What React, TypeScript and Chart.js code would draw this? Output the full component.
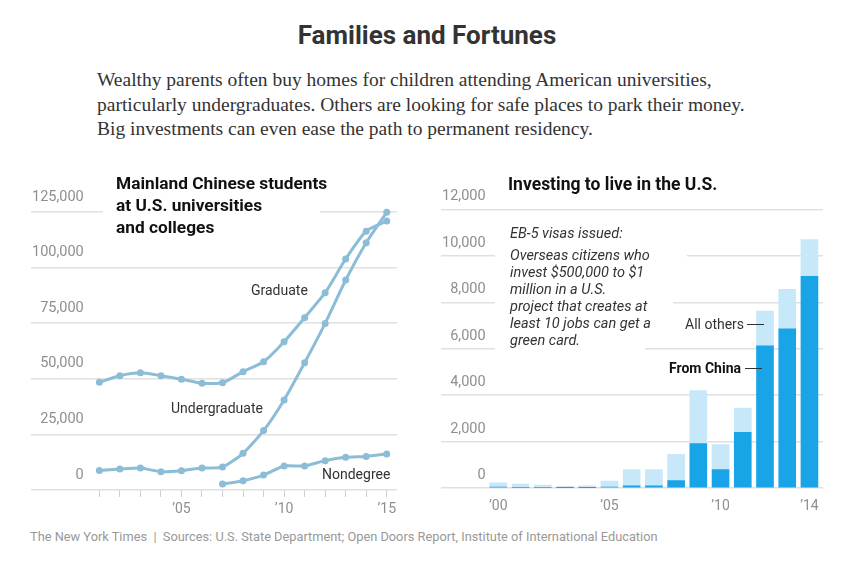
import React, { useEffect, useRef } from "react";
import { Chart, registerables } from "chart.js";

Chart.register(...registerables);

// ---- Left chart: Mainland Chinese students at U.S. universities ----
const studentYears = [2001, 2002, 2003, 2004, 2005, 2006, 2007, 2008, 2009, 2010, 2011, 2012, 2013, 2014, 2015];
const graduate = [48400, 51400, 52700, 51400, 49800, 48000, 48200, 53200, 57700, 66700, 77500, 88700, 103900, 116400, 120900];
const undergraduate = [8800, 9400, 9900, 8200, 8700, 9900, 10300, 16500, 26700, 40500, 57200, 74900, 94400, 111200, 124900];
const nondegreeYears = [2007, 2008, 2009, 2010, 2011, 2012, 2013, 2014, 2015];
const nondegree = [2700, 4200, 6700, 10800, 10800, 13200, 14700, 15100, 16200];
const studentTickValues = [0, 25000, 50000, 75000, 100000, 125000];
const studentLabelYears = [2005, 2010, 2015];

// ---- Right chart: EB-5 visas issued ----
const visaYears = [2000, 2001, 2002, 2003, 2004, 2005, 2006, 2007, 2008, 2009, 2010, 2011, 2012, 2013, 2014];
const fromChina = [35, 30, 25, 15, 5, 40, 90, 90, 320, 1910, 790, 2400, 6130, 6860, 9120];
const allOthers = [190, 140, 100, 60, 85, 260, 700, 700, 1130, 2290, 1080, 1040, 1490, 1700, 1580];
const visaTickValues = [0, 2000, 4000, 6000, 8000, 10000, 12000];
const visaLabelYears = [2000, 2005, 2010, 2014];

const SANS = "Roboto, 'Liberation Sans', Arial, sans-serif";
const LINE_COLOR = "#8bbdd7";
const GRID_COLOR = "#e0e0e0";
const TICK_COLOR = "#8f8f8f";

function shortYear(v: number) {
  return "\u2019" + String(v).slice(2);
}

function StudentsChart() {
  const ref = useRef<HTMLCanvasElement | null>(null);
  useEffect(() => {
    if (!ref.current) return;
    const ds = (data: number[], years: number[]) => ({
      data: years.map((y, i) => ({ x: y, y: data[i] })),
      borderColor: LINE_COLOR,
      backgroundColor: LINE_COLOR,
      borderWidth: 3,
      pointRadius: 3.5,
      pointBorderWidth: 0,
      pointBackgroundColor: LINE_COLOR,
      tension: 0.2,
      clip: false as any,
    });
    const chart = new Chart(ref.current, {
      type: "line",
      data: {
        datasets: [
          { label: "Graduate", ...ds(graduate, studentYears) },
          { label: "Undergraduate", ...ds(undergraduate, studentYears) },
          { label: "Nondegree", ...ds(nondegree, nondegreeYears) },
        ],
      },
      options: {
        responsive: false,
        animation: false,
        layout: { padding: { left: 11, right: 23, top: 42, bottom: 0 } },
        plugins: { legend: { display: false }, tooltip: { enabled: false } },
        scales: {
          x: {
            type: "linear",
            min: 1997.67,
            max: 2015.5,
            border: { display: false },
            afterBuildTicks: (scale: any) => {
              scale.ticks = studentYears.map((v) => ({ value: v }));
            },
            afterFit: (scale: any) => {
              scale.height = 30;
            },
            grid: { drawOnChartArea: false, drawTicks: true, tickLength: 7, color: "#cfcfcf", lineWidth: 1 },
            ticks: {
              autoSkip: false,
              maxRotation: 0,
              padding: 4,
              color: TICK_COLOR,
              font: { family: SANS, size: 14 },
              callback: (v: any) => (studentLabelYears.includes(Number(v)) ? shortYear(Number(v)) : ""),
            },
          },
          y: {
            min: 0,
            max: 125000,
            border: { display: false },
            afterBuildTicks: (scale: any) => {
              scale.ticks = studentTickValues.map((v) => ({ value: v }));
            },
            afterFit: (scale: any) => {
              scale.width = 0;
            },
            grid: { color: GRID_COLOR, lineWidth: 1.5, drawTicks: false },
            ticks: {
              mirror: true,
              crossAlign: "far",
              padding: 1,
              labelOffset: -15,
              color: TICK_COLOR,
              font: { family: SANS, size: 14.5 },
              callback: (v: any) => Number(v).toLocaleString("en-US"),
            },
          },
        },
      } as any,
    });
    return () => chart.destroy();
  }, []);
  return (
    <canvas ref={ref} width={400} height={350} style={{ position: "absolute", left: 20, top: 170 }} />
  );
}

function VisaChart() {
  const ref = useRef<HTMLCanvasElement | null>(null);
  useEffect(() => {
    if (!ref.current) return;
    const chart = new Chart(ref.current, {
      type: "bar",
      data: {
        datasets: [
          {
            label: "From China",
            data: visaYears.map((y, i) => ({ x: y, y: fromChina[i] })),
            backgroundColor: "#19a4e8",
            barThickness: 17,
            borderWidth: 0,
          },
          {
            label: "All others",
            data: visaYears.map((y, i) => ({ x: y, y: allOthers[i] })),
            backgroundColor: "#c6e8f9",
            barThickness: 17,
            borderWidth: 0,
          },
        ],
      },
      options: {
        responsive: false,
        animation: false,
        layout: { padding: { left: 11, right: 7, top: 39.5, bottom: 0 } },
        plugins: { legend: { display: false }, tooltip: { enabled: false } },
        scales: {
          x: {
            type: "linear",
            stacked: true,
            min: 1997.42,
            max: 2014.61,
            offset: false,
            border: { display: false },
            afterBuildTicks: (scale: any) => {
              scale.ticks = visaLabelYears.map((v) => ({ value: v }));
            },
            afterFit: (scale: any) => {
              scale.height = 32;
            },
            grid: { display: false, drawTicks: false },
            ticks: {
              autoSkip: false,
              maxRotation: 0,
              padding: 10,
              color: TICK_COLOR,
              font: { family: SANS, size: 14 },
              callback: (v: any) => shortYear(Number(v)),
            },
          },
          y: {
            stacked: true,
            min: 0,
            max: 12000,
            border: { display: false },
            afterBuildTicks: (scale: any) => {
              scale.ticks = visaTickValues.map((v) => ({ value: v }));
            },
            afterFit: (scale: any) => {
              scale.width = 0;
            },
            grid: { color: GRID_COLOR, lineWidth: 1.5, drawTicks: false },
            ticks: {
              mirror: true,
              crossAlign: "far",
              padding: 1,
              labelOffset: -12.7,
              color: TICK_COLOR,
              font: { family: SANS, size: 14.5 },
              callback: (v: any) => Number(v).toLocaleString("en-US"),
            },
          },
        },
      } as any,
    });
    return () => chart.destroy();
  }, []);
  return (
    <canvas ref={ref} width={400} height={350} style={{ position: "absolute", left: 430, top: 170 }} />
  );
}

const abs = (left: number, top: number, extra: React.CSSProperties = {}): React.CSSProperties => ({
  position: "absolute",
  left,
  top,
  whiteSpace: "nowrap",
  ...extra,
});

export default function App() {
  const labelStyle: React.CSSProperties = { fontFamily: SANS, fontSize: 14, color: "#333", lineHeight: "16px" };
  const noteStyle: React.CSSProperties = {
    fontFamily: SANS,
    fontSize: 14.5,
    fontStyle: "italic",
    color: "#333",
    lineHeight: "17px",
  };
  return (
    <div style={{ position: "absolute", left: 0, top: 0, width: 860, height: 574, background: "#fff", overflow: "hidden" }}>
      <div
        style={abs(0, 19, {
          width: 854,
          textAlign: "center",
          fontFamily: SANS,
          fontWeight: 700,
          fontSize: 26,
          lineHeight: "32px",
          color: "#333",
        })}
      >
        Families and Fortunes
      </div>
      <div
        style={abs(97, 68, {
          fontFamily: "'Liberation Serif', 'DejaVu Serif', serif",
          fontSize: 19.5,
          lineHeight: "24.5px",
          color: "#333",
        })}
      >
        Wealthy parents often buy homes for children attending American universities,
        <br />
        particularly undergraduates. Others are looking for safe places to park their money.
        <br />
        Big investments can even ease the path to permanent residency.
      </div>

      <StudentsChart />
      <VisaChart />

      {/* left chart title with white backing over the top gridline */}
      <div
        style={abs(103, 172, {
          background: "#fff",
          paddingLeft: 13,
          width: 204,
          fontFamily: SANS,
          fontWeight: 700,
          fontSize: 17.3,
          lineHeight: "22px",
          color: "#111",
        })}
      >
        Mainland Chinese students
        <br />
        at U.S. universities
        <br />
        and colleges
      </div>
      <div style={abs(251, 282, labelStyle)}>Graduate</div>
      <div style={abs(171, 400, labelStyle)}>Undergraduate</div>
      <div style={abs(322, 466, labelStyle)}>Nondegree</div>

      {/* right chart */}
      <div style={abs(508, 173, { fontFamily: SANS, fontWeight: 700, fontSize: 17.5, lineHeight: "22px", color: "#111" })}>
        Investing to live in the U.S.
      </div>
      <div style={abs(495, 244, { background: "#fff", width: 192, height: 20 })} />
      <div style={abs(495, 262, { background: "#fff", width: 178, height: 80 })} />
      <div style={abs(495, 340, { background: "#fff", width: 150, height: 12 })} />
      <div style={abs(510, 225, noteStyle)}>EB-5 visas issued:</div>
      <div style={abs(510, 247, noteStyle)}>
        Overseas citizens who
        <br />
        invest $500,000 to $1
        <br />
        million in a U.S.
        <br />
        project that creates at
        <br />
        least 10 jobs can get a
        <br />
        green card.
      </div>
      <div style={abs(685, 316, { ...labelStyle, display: "flex", alignItems: "center" })}>
        All others
        <span style={{ display: "inline-block", width: 17, borderTop: "1.5px solid #333", marginLeft: 3 }} />
      </div>
      <div style={abs(669, 360, { ...labelStyle, fontWeight: 700, color: "#111", display: "flex", alignItems: "center" })}>
        From China
        <span style={{ display: "inline-block", width: 17, borderTop: "1.5px solid #333", marginLeft: 4 }} />
      </div>

      <div style={abs(30, 529, { fontFamily: SANS, fontSize: 12.8, lineHeight: "16px", color: "#999" })}>
        The New York Times&nbsp;&nbsp;|&nbsp;&nbsp;Sources: U.S. State Department; Open Doors Report, Institute of International Education
      </div>
    </div>
  );
}
